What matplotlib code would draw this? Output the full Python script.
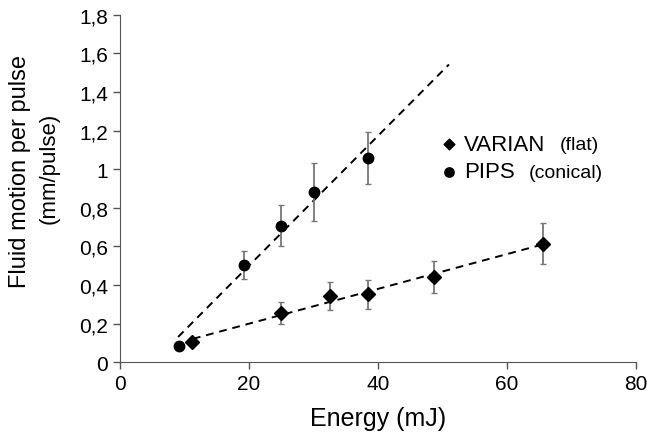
import matplotlib.pyplot as plt
import numpy as np
from matplotlib.ticker import FuncFormatter

plt.rcParams['font.family'] = ['Liberation Sans', 'DejaVu Sans']

# PIPS (conical)
pips_x = [9.2, 19.2, 25.0, 30.0, 38.5]
pips_y = [0.086, 0.505, 0.708, 0.883, 1.058]
pips_err = [0.0, 0.073, 0.105, 0.15, 0.136]

# VARIAN (flat)
varian_x = [11.1, 24.9, 32.5, 38.4, 48.7, 65.6]
varian_y = [0.104, 0.256, 0.345, 0.352, 0.44, 0.615]
varian_err = [0.0, 0.058, 0.073, 0.076, 0.083, 0.107]

x_ticks = [0, 20, 40, 60, 80]
y_ticks = [0, 0.2, 0.4, 0.6, 0.8, 1.0, 1.2, 1.4, 1.6, 1.8]

fig = plt.figure(figsize=(6.47, 4.35), dpi=100)
ax = fig.add_axes([0.1855, 0.1648, 0.7975, 0.799])

ax.errorbar(pips_x, pips_y, yerr=pips_err, fmt='o', color='black', ms=7.5,
            ecolor='#777777', elinewidth=1.3, capsize=2.5, capthick=1, zorder=3)
ax.errorbar(varian_x, varian_y, yerr=varian_err, fmt='D', color='black', ms=7.3,
            ecolor='#777777', elinewidth=1.3, capsize=2.5, capthick=1, zorder=3)

# linear trend lines
p = np.polyfit(pips_x, pips_y, 1)
xs = np.array([9.0, 51.0])
ax.plot(xs, np.polyval(p, xs), '--', color='black', lw=1.4, dashes=(4, 3))
v = np.polyfit(varian_x, varian_y, 1)
xs = np.array([11.3, 65.6])
ax.plot(xs, np.polyval(v, xs), '--', color='black', lw=1.4, dashes=(4, 3))

ax.set_xlim(0, 80)
ax.set_ylim(0, 1.8)
ax.set_xticks(x_ticks)
ax.set_yticks(y_ticks)
ax.yaxis.set_major_formatter(FuncFormatter(lambda val, pos: ('%g' % round(val, 2)).replace('.', ',')))
ax.tick_params(labelsize=15, color='#555555', length=5, width=1)
for s in ['top', 'right']:
    ax.spines[s].set_visible(False)
for s in ['left', 'bottom']:
    ax.spines[s].set_color('#555555')

ax.set_xlabel('Energy (mJ)', fontsize=18, labelpad=9)

fig.text(0.031, 0.605, 'Fluid motion per pulse', rotation=90, fontsize=17,
         ha='center', va='center')
fig.text(0.0765, 0.612, '(mm/pulse)', rotation=90, fontsize=16,
         ha='center', va='center')

# legend
h1 = ax.scatter([], [], marker='D', color='black', s=30)
h2 = ax.scatter([], [], marker='o', color='black', s=45)
leg = ax.legend([h1, h2], ['VARIAN', 'PIPS'], loc='upper left',
                bbox_to_anchor=(0.594, 0.683), frameon=False, fontsize=16,
                handletextpad=0.1, labelspacing=0.3, borderaxespad=0,
                handlelength=1.2)

fig.canvas.draw()
W, H = fig.canvas.get_width_height()
for t, extra in zip(leg.get_texts(), ['(flat)', '(conical)']):
    bb = t.get_window_extent()
    fig.text((bb.x1 + 14) / W, (bb.y0 + 1) / H, extra, fontsize=14,
             ha='left', va='bottom')

fig.savefig('out.png', dpi=100)
